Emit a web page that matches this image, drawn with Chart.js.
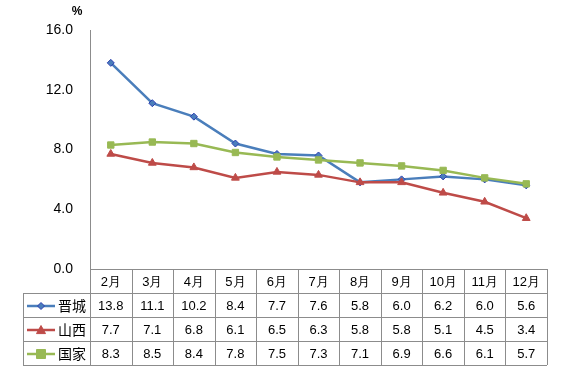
<!DOCTYPE html>
<html>
<head>
<meta charset="utf-8">
<script src="https://cdn.jsdelivr.net/npm/chart.js@4"></script>
<style>
  html, body { margin: 0; padding: 0; background: #fff; }
  #wrap { width: 562px; height: 372px; }
</style>
</head>
<body>
<div id="wrap"><canvas id="mainCanvas" width="562" height="372"></canvas></div>
<script>
const months = ['2月', '3月', '4月', '5月', '6月', '7月', '8月', '9月', '10月', '11月', '12月'];
const jinchengValues = [13.8, 11.1, 10.2, 8.4, 7.7, 7.6, 5.8, 6.0, 6.2, 6.0, 5.6];
const shanxiValues = [7.7, 7.1, 6.8, 6.1, 6.5, 6.3, 5.8, 5.8, 5.1, 4.5, 3.4];
const nationalValues = [8.3, 8.5, 8.4, 7.8, 7.5, 7.3, 7.1, 6.9, 6.6, 6.1, 5.7];
const seriesNames = ['晋城', '山西', '国家'];
const yTicks = [0, 4, 8, 12, 16];

const numFont = '13px "Liberation Sans", Arial, sans-serif';
const cjkFont = '14px "Noto Sans CJK SC", sans-serif';
const gridGray = '#8c8c8c';

// draws the data table under the plot, aligned to the x scale
const tablePlugin = {
  id: 'dataTable',
  afterDraw(chart) {
    const { ctx, chartArea, scales } = chart;
    const x = scales.x;
    const left = chartArea.left, right = chartArea.right, bottom = chartArea.bottom;
    const colW = (right - left) / months.length;
    const rowH = 24;
    const tableLeft = 23;

    ctx.save();
    ctx.strokeStyle = gridGray;
    ctx.lineWidth = 1;

    // y axis line, extended through table
    ctx.beginPath();
    ctx.moveTo(left + 0.5, chartArea.top);
    ctx.lineTo(left + 0.5, bottom + rowH * 4);
    ctx.stroke();

    // header row top + vertical lines
    ctx.beginPath();
    ctx.moveTo(left, bottom + 0.5);
    ctx.lineTo(right, bottom + 0.5);
    for (let i = 1; i <= months.length; i++) {
      const vx = Math.round(left + i * colW) + 0.5;
      ctx.moveTo(vx, bottom);
      ctx.lineTo(vx, bottom + rowH * 4);
    }
    for (let r = 1; r <= 4; r++) {
      const hy = bottom + r * rowH + 0.5;
      ctx.moveTo(tableLeft, hy);
      ctx.lineTo(right, hy);
    }
    ctx.moveTo(tableLeft + 0.5, bottom + rowH);
    ctx.lineTo(tableLeft + 0.5, bottom + rowH * 4);
    ctx.stroke();

    ctx.fillStyle = '#000';
    ctx.textAlign = 'center';
    ctx.textBaseline = 'middle';

    months.forEach((m, i) => {
      const cx = x.getPixelForValue(i);
      ctx.font = numFont;
      ctx.fillText(m, cx, bottom + rowH / 2 + 1);
    });

    chart.data.datasets.forEach((ds, r) => {
      const cy = bottom + rowH * (r + 1) + rowH / 2 + 1;
      ds.data.forEach((v, i) => {
        ctx.font = numFont;
        ctx.fillText(v.toFixed(1), x.getPixelForValue(i), cy);
      });

      // legend key
      ctx.strokeStyle = ds.borderColor;
      ctx.lineWidth = 2.5;
      ctx.beginPath();
      ctx.moveTo(27, cy);
      ctx.lineTo(55, cy);
      ctx.stroke();
      ctx.fillStyle = ds.pointBackgroundColor;
      ctx.strokeStyle = ds.pointBorderColor;
      ctx.lineWidth = 1;
      drawMarker(ctx, ds.pointStyle, 41, cy, ds.pointRadius);

      ctx.fillStyle = '#000';
      ctx.font = cjkFont;
      ctx.textAlign = 'left';
      ctx.fillText(ds.label, 58, cy);
      ctx.textAlign = 'center';
    });

    // unit label
    ctx.font = 'bold 12px "Liberation Sans", Arial, sans-serif';
    ctx.fillText('%', 77, 12);
    ctx.restore();
  }
};

function drawMarker(ctx, style, cx, cy, r) {
  ctx.beginPath();
  if (style === 'rectRot') {
    ctx.moveTo(cx, cy - r);
    ctx.lineTo(cx + r, cy);
    ctx.lineTo(cx, cy + r);
    ctx.lineTo(cx - r, cy);
  } else if (style === 'triangle') {
    ctx.moveTo(cx, cy - r);
    ctx.lineTo(cx + r, cy + r * 0.8);
    ctx.lineTo(cx - r, cy + r * 0.8);
  } else {
    ctx.rect(cx - r, cy - r, r * 2, r * 2);
  }
  ctx.closePath();
  ctx.fill();
  ctx.stroke();
}

const ctx = document.getElementById('mainCanvas').getContext('2d');

new Chart(ctx, {
  type: 'line',
  data: {
    labels: months,
    datasets: [
      {
        label: seriesNames[0],
        data: jinchengValues,
        order: 3,
        borderColor: '#4a7ebb',
        borderWidth: 2.5,
        pointStyle: 'rectRot',
        pointRadius: 3.5,
        pointBackgroundColor: '#4a7ebb',
        pointBorderColor: '#2c3fb0',
        pointBorderWidth: 1
      },
      {
        label: seriesNames[1],
        data: shanxiValues,
        order: 2,
        borderColor: '#be4b48',
        borderWidth: 2.5,
        pointStyle: 'triangle',
        pointRadius: 4.5,
        pointBackgroundColor: '#be4b48',
        pointBorderColor: '#be4b48',
        pointBorderWidth: 1
      },
      {
        label: seriesNames[2],
        data: nationalValues,
        order: 1,
        borderColor: '#98b954',
        borderWidth: 2.5,
        pointStyle: 'rect',
        pointRadius: 4.5,
        pointBackgroundColor: '#98b954',
        pointBorderColor: '#98b954',
        pointBorderWidth: 1
      }
    ]
  },
  options: {
    responsive: false,
    animation: false,
    events: [],
    clip: false,
    layout: { padding: { left: 0, top: 30, right: 15, bottom: 103 } },
    plugins: {
      legend: { display: false },
      tooltip: { enabled: false }
    },
    elements: { line: { tension: 0 } },
    scales: {
      x: {
        type: 'category',
        display: false,
        offset: true
      },
      y: {
        min: 0,
        max: 16,
        afterFit(scale) { scale.width = 90; },
        afterBuildTicks(scale) { scale.ticks = yTicks.map(v => ({ value: v })); },
        grid: { display: false, drawTicks: false },
        border: { display: false },
        ticks: {
          padding: 17,
          color: '#000',
          font: { family: '"Liberation Sans", Arial, sans-serif', size: 14 },
          callback: v => v.toFixed(1)
        }
      }
    }
  },
  plugins: [tablePlugin]
});
</script>
</body>
</html>
